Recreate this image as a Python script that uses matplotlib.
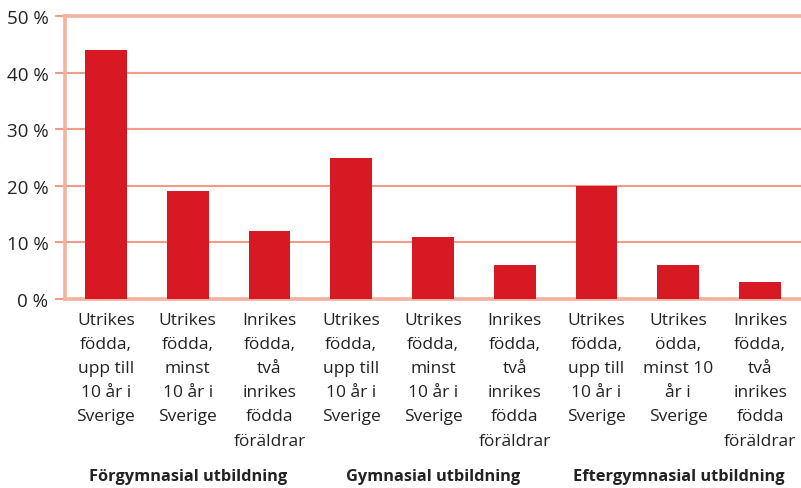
import matplotlib

matplotlib.use("Agg")
import matplotlib.pyplot as plt  # noqa: E402
from matplotlib.transforms import blended_transform_factory  # noqa: E402

CATEGORIES = [
    "Utrikes\nfödda,\nupp till\n10 år i\nSverige",
    "Utrikes\nfödda,\nminst\n10 år i\nSverige",
    "Inrikes\nfödda,\ntvå\ninrikes\nfödda\nföräldrar",
    "Utrikes\nfödda,\nupp till\n10 år i\nSverige",
    "Utrikes\nfödda,\nminst\n10 år i\nSverige",
    "Inrikes\nfödda,\ntvå\ninrikes\nfödda\nföräldrar",
    "Utrikes\nfödda,\nupp till\n10 år i\nSverige",
    "Utrikes\nödda,\nminst 10\når i\nSverige",
    "Inrikes\nfödda,\ntvå\ninrikes\nfödda\nföräldrar",
]
VALUES = [44, 19, 12, 25, 11, 6, 20, 6, 3]
GROUPS = ["Förgymnasial utbildning", "Gymnasial utbildning", "Eftergymnasial utbildning"]
YTICKS = [0, 10, 20, 30, 40, 50]

RED = "#d71924"
GRID = "#f19c86"
FRAME = "#f3b29e"
TEXT = "#222222"

plt.rcParams["font.family"] = ["Open Sans", "DejaVu Sans"]

fig = plt.figure(figsize=(8.01, 4.89), dpi=100)
ax = fig.add_axes([65 / 801, 189 / 489, 736 / 801, 283 / 489])

xs = list(range(len(VALUES)))
ax.bar(xs, VALUES, width=0.51, color=RED, zorder=3)
ax.set_xlim(-0.5, len(VALUES) - 0.5)
ax.set_ylim(0, 50)

ax.set_yticks(YTICKS)
ax.set_yticklabels([f"{v} %" for v in YTICKS], fontsize=13.5, color=TEXT)
ax.tick_params(axis="y", length=7, width=1.5, color=GRID, pad=5)
ax.set_xticks([])
for v in YTICKS[1:-1]:
    ax.axhline(v, color=GRID, lw=1.5, zorder=1)

for side in ["top", "bottom", "left"]:
    ax.spines[side].set_color(FRAME)
    ax.spines[side].set_linewidth(2.6)
ax.spines["right"].set_visible(False)

trans = blended_transform_factory(ax.transData, ax.transAxes)
for x, lbl in zip(xs, CATEGORIES):
    ax.text(x, -0.045, lbl, transform=trans, ha="center", va="top",
            fontsize=12.5, color=TEXT, linespacing=1.68)

for i, g in enumerate(GROUPS):
    ax.text(3 * i + 1, -0.625, g, transform=trans, ha="center", va="center",
            fontsize=11.8, fontweight="bold", color=TEXT)

fig.savefig("out.png", dpi=100)
